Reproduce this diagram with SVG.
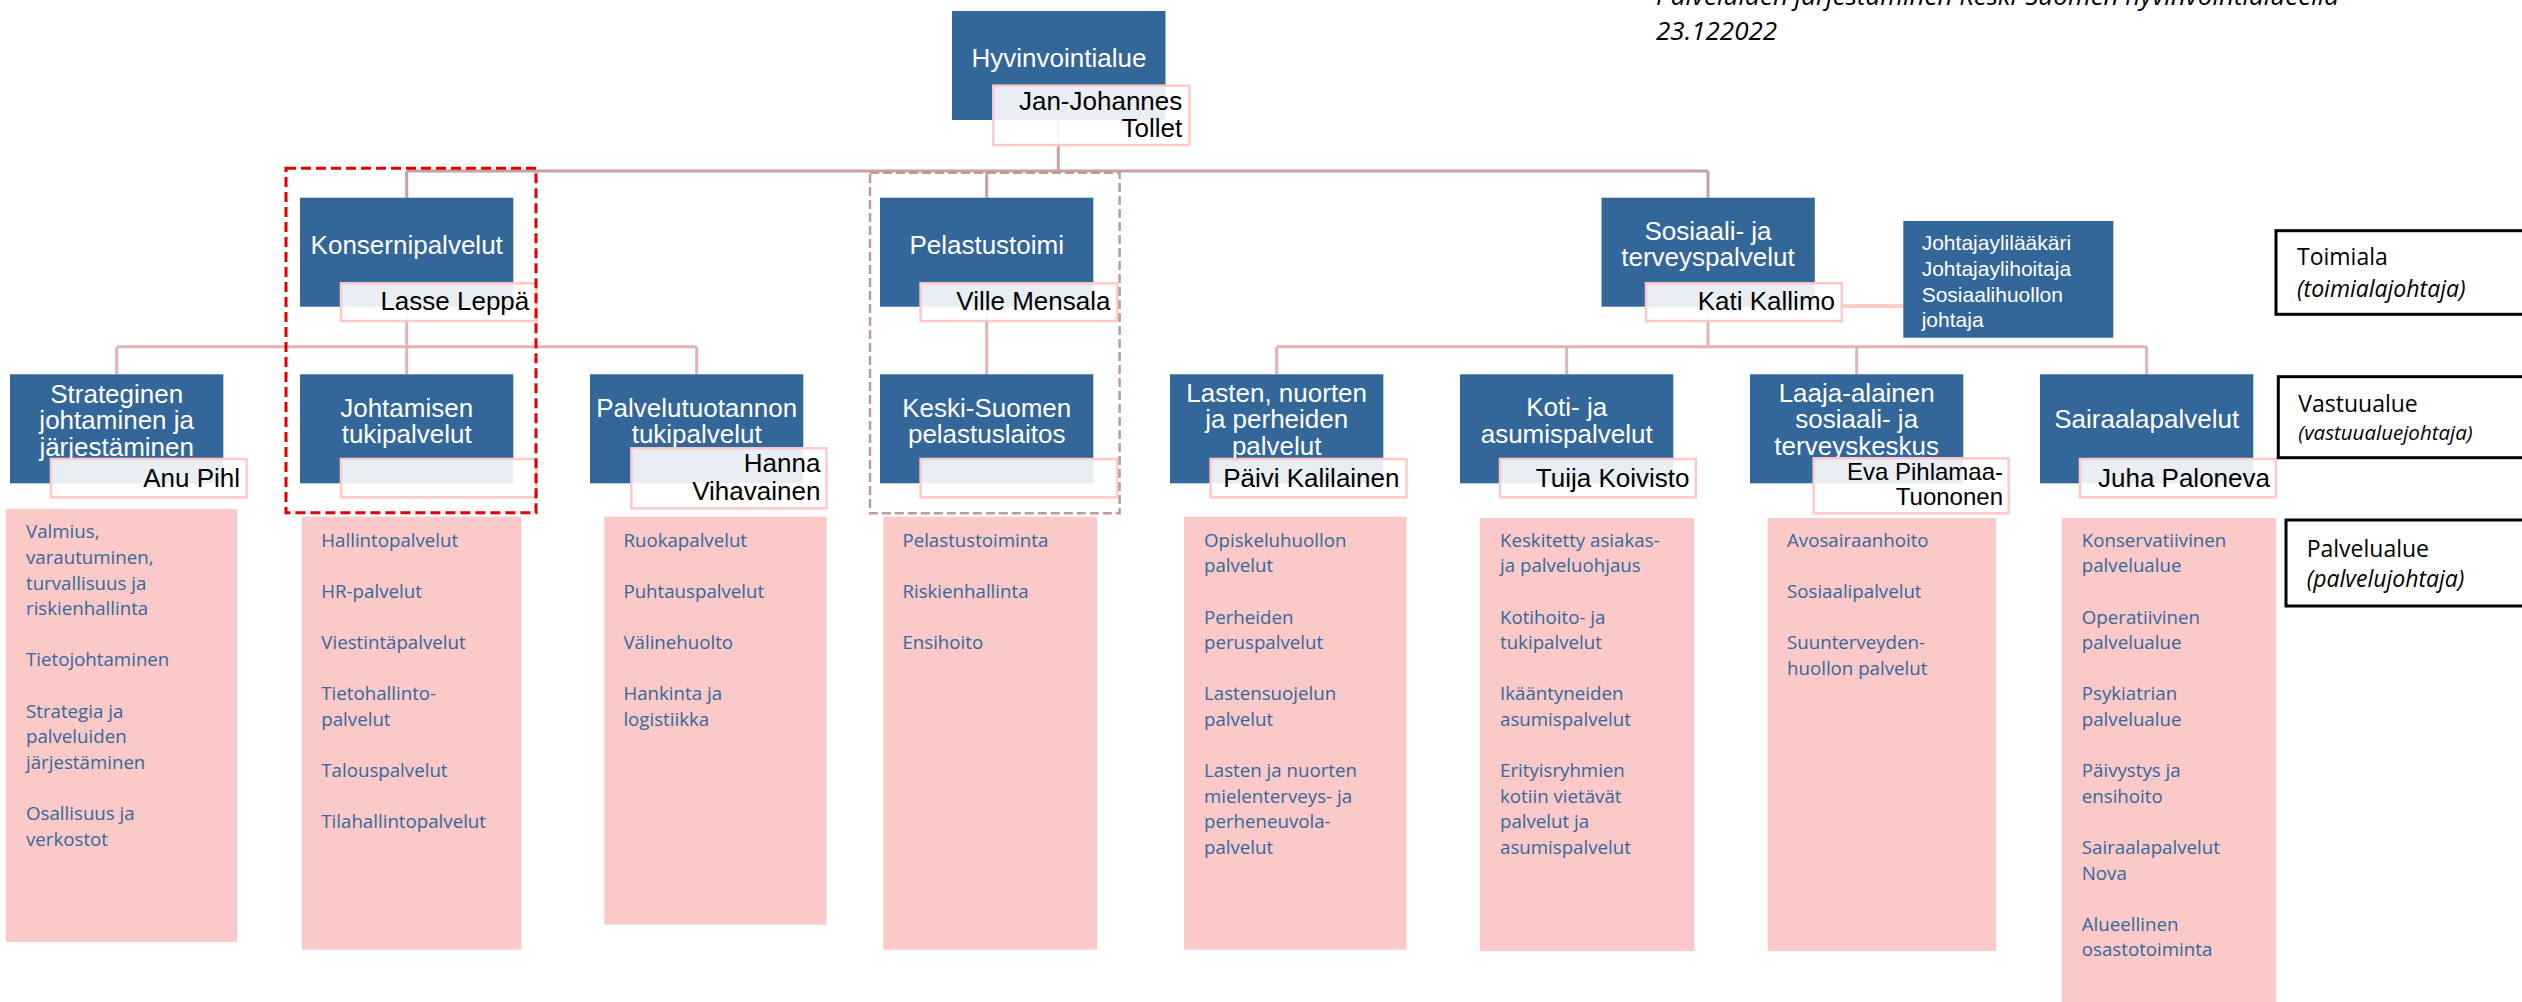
<svg xmlns="http://www.w3.org/2000/svg" width="2522" height="1002" viewBox="0 0 2522 1002">
<style>
.b{fill:#336699}
.n{fill:#fff;fill-opacity:0.89;stroke:#FFC9C9;stroke-width:2.5}
.p{fill:#FCC9C9}
.bt{font-family:"Liberation Sans",Arial,sans-serif;font-size:26px;fill:#fff;text-anchor:middle}
.nt{font-family:"Liberation Sans",Arial,sans-serif;font-size:26px;fill:#000;text-anchor:end}
.pt{font-family:"Open Sans",sans-serif;font-size:18.7px;fill:#35679C}
.c1{stroke:#C9A0A0;stroke-width:3;fill:none}
.c2{stroke:#E3B3B3;stroke-width:3;fill:none}
.lb{fill:#fff;stroke:#000;stroke-width:3}
.lt{font-family:"Open Sans",sans-serif;font-size:23px;fill:#000}
.it{font-style:italic}
</style>
<rect width="2522" height="1002" fill="#fff"/>

<g id="title">
<text class="lt it" style="font-size:26px" x="1656" y="5">Palveluiden järjestäminen Keski-Suomen hyvinvointialueella</text>
<text class="lt it" style="font-size:26px" x="1656" y="40">23.122022</text>
</g>

<g id="connectors">
<path class="c1" d="M1058.3 120V171M406.7 171H1708M406.7 171V197.7M986.7 171V197.7M1708 171V197.7"/>
<path class="c2" d="M406.7 306.7V346.7M116.7 346.7H696.7M116.7 346.7V374.3M406.7 346.7V374.3M696.7 346.7V374.3"/>
<path class="c2" d="M986.7 306.7V374.3"/>
<path class="c2" d="M1708 306.7V346.7M1276.7 346.7H2146.7M1276.7 346.7V374.3M1566.7 346.7V374.3M1856.7 346.7V374.3M2146.7 346.7V374.3"/>
<path d="M1842 306H1903.3" stroke="#FFCACA" stroke-width="4" fill="none"/>
</g>

<g id="hyvinvointialue">
<rect class="b" x="952" y="11" width="213.5" height="109"/>
<text class="bt" x="1059" y="66.7">Hyvinvointialue</text>
<rect class="n" x="993.3" y="85.7" width="196" height="59.3"/>
<text class="nt" x="1182.3" y="110">Jan-Johannes</text>
<text class="nt" x="1182.3" y="136.7">Tollet</text>
</g>

<g id="konsernipalvelut">
<rect class="b" x="300" y="197.7" width="213.3" height="109"/>
<text class="bt" x="406.7" y="254">Konsernipalvelut</text>
<rect class="n" x="341" y="283.3" width="195.7" height="37.7"/>
<text class="nt" x="529.3" y="310">Lasse Leppä</text>
</g>

<g id="pelastustoimi">
<rect class="b" x="880" y="197.7" width="213.3" height="109"/>
<text class="bt" x="986.7" y="254">Pelastustoimi</text>
<rect class="n" x="920.6" y="283.3" width="196.7" height="37.7"/>
<text class="nt" x="1110.5" y="310">Ville Mensala</text>
</g>

<g id="sosiaali">
<rect class="b" x="1601.5" y="197.7" width="213.3" height="109"/>
<text class="bt" x="1708" y="240">Sosiaali- ja</text>
<text class="bt" x="1708" y="266">terveyspalvelut</text>
<rect class="n" x="1646" y="283.3" width="195.8" height="37.7"/>
<text class="nt" x="1835" y="310">Kati Kallimo</text>
</g>

<g id="johtajat">
<rect class="b" x="1903.3" y="221" width="210" height="116.7"/>
<text style="font-family:'Liberation Sans',Arial,sans-serif;font-size:21px;fill:#fff">
<tspan x="1921.7" y="250">Johtajaylilääkäri</tspan>
<tspan x="1921.7" y="276">Johtajaylihoitaja</tspan>
<tspan x="1921.7" y="301.5">Sosiaalihuollon</tspan>
<tspan x="1921.7" y="327">johtaja</tspan>
</text>
</g>

<g id="strateginen">
<rect class="b" x="10" y="374.3" width="213.3" height="109"/>
<text class="bt" x="116.7" y="402.8">Strateginen</text>
<text class="bt" x="116.7" y="429.3">johtaminen ja</text>
<text class="bt" x="116.7" y="455.8">järjestäminen</text>
<rect class="n" x="51" y="459" width="195.7" height="38.3"/>
<text class="nt" x="240" y="486.7">Anu Pihl</text>
</g>

<g id="johtamisen">
<rect class="b" x="300" y="374.3" width="213.3" height="109"/>
<text class="bt" x="406.7" y="416.7">Johtamisen</text>
<text class="bt" x="406.7" y="443.3">tukipalvelut</text>
<rect class="n" x="341" y="459" width="195.7" height="38.3"/>
</g>

<g id="palvelutuotannon">
<rect class="b" x="590" y="374.3" width="213.3" height="109"/>
<text class="bt" x="696.7" y="416.7">Palvelutuotannon</text>
<text class="bt" x="696.7" y="443.3">tukipalvelut</text>
<rect class="n" x="631.4" y="448.3" width="195.1" height="60"/>
<text class="nt" x="820.4" y="471.7">Hanna</text>
<text class="nt" x="820.4" y="500">Vihavainen</text>
</g>

<g id="keski-suomen">
<rect class="b" x="880" y="374.3" width="213.3" height="109"/>
<text class="bt" x="986.7" y="416.7">Keski-Suomen</text>
<text class="bt" x="986.7" y="443.3">pelastuslaitos</text>
<rect class="n" x="920.6" y="459" width="196.7" height="38.3"/>
</g>

<g id="lasten">
<rect class="b" x="1170" y="374.3" width="213.3" height="109"/>
<text class="bt" x="1276.7" y="401.7">Lasten, nuorten</text>
<text class="bt" x="1276.7" y="428.3">ja perheiden</text>
<text class="bt" x="1276.7" y="455">palvelut</text>
<rect class="n" x="1210.6" y="459" width="195.9" height="38.3"/>
<text class="nt" x="1399.5" y="486.7">Päivi Kalilainen</text>
</g>

<g id="koti">
<rect class="b" x="1460" y="374.3" width="213.3" height="109"/>
<text class="bt" x="1566.7" y="415.5">Koti- ja</text>
<text class="bt" x="1566.7" y="443.3">asumispalvelut</text>
<rect class="n" x="1500" y="459" width="195.8" height="38.3"/>
<text class="nt" x="1689.5" y="486.7">Tuija Koivisto</text>
</g>

<g id="laaja-alainen">
<rect class="b" x="1750" y="374.3" width="213.3" height="109"/>
<text class="bt" x="1856.7" y="401.7">Laaja-alainen</text>
<text class="bt" x="1856.7" y="428.3">sosiaali- ja</text>
<text class="bt" x="1856.7" y="455">terveyskeskus</text>
<rect class="n" x="1813.7" y="458.3" width="195" height="55"/>
<text class="nt" style="font-size:24px" x="2003" y="480">Eva Pihlamaa-</text>
<text class="nt" style="font-size:24px" x="2003" y="505">Tuononen</text>
</g>

<g id="sairaalapalvelut">
<rect class="b" x="2040" y="374.3" width="213.3" height="109"/>
<text class="bt" x="2146.7" y="428.3">Sairaalapalvelut</text>
<rect class="n" x="2080" y="459" width="196" height="38.3"/>
<text class="nt" x="2270" y="486.7">Juha Paloneva</text>
</g>

<g id="ryhmat">
<rect x="286" y="168.3" width="250" height="344.4" fill="none" stroke="#E00000" stroke-width="3" stroke-dasharray="10 5"/>
<rect x="870" y="172.7" width="249.6" height="340.6" fill="none" stroke="#BF9A9A" stroke-width="2.5" stroke-dasharray="9 4"/>
</g>

<g id="pa-strateginen">
<rect class="p" x="6" y="509" width="231" height="433"/>
<text class="pt"><tspan x="26" y="538.3">Valmius,</tspan><tspan x="26" y="563.9">varautuminen,</tspan><tspan x="26" y="589.5">turvallisuus ja</tspan><tspan x="26" y="615.1">riskienhallinta</tspan><tspan x="26" y="666.3">Tietojohtaminen</tspan><tspan x="26" y="717.5">Strategia ja</tspan><tspan x="26" y="743.1">palveluiden</tspan><tspan x="26" y="768.7">järjestäminen</tspan><tspan x="26" y="819.9">Osallisuus ja</tspan><tspan x="26" y="845.5">verkostot</tspan></text>
</g>

<g id="pa-johtamisen">
<rect class="p" x="302" y="516.7" width="219.4" height="433"/>
<text class="pt"><tspan x="321.3" y="546.7">Hallintopalvelut</tspan><tspan x="321.3" y="597.9">HR-palvelut</tspan><tspan x="321.3" y="649.1">Viestintäpalvelut</tspan><tspan x="321.3" y="700.3">Tietohallinto-</tspan><tspan x="321.3" y="725.9">palvelut</tspan><tspan x="321.3" y="777.1">Talouspalvelut</tspan><tspan x="321.3" y="828.3">Tilahallintopalvelut</tspan></text>
</g>

<g id="pa-palvelutuotannon">
<rect class="p" x="604.3" y="516.7" width="222.4" height="408"/>
<text class="pt"><tspan x="623.4" y="546.7">Ruokapalvelut</tspan><tspan x="623.4" y="597.9">Puhtauspalvelut</tspan><tspan x="623.4" y="649.1">Välinehuolto</tspan><tspan x="623.4" y="700.3">Hankinta ja</tspan><tspan x="623.4" y="725.9">logistiikka</tspan></text>
</g>

<g id="pa-pelastus">
<rect class="p" x="883.3" y="516.7" width="213.7" height="433"/>
<text class="pt"><tspan x="902.4" y="546.7">Pelastustoiminta</tspan><tspan x="902.4" y="597.9">Riskienhallinta</tspan><tspan x="902.4" y="649.1">Ensihoito</tspan></text>
</g>

<g id="pa-lasten">
<rect class="p" x="1184" y="516.7" width="222.4" height="433"/>
<text class="pt"><tspan x="1204" y="546.7">Opiskeluhuollon</tspan><tspan x="1204" y="572.3">palvelut</tspan><tspan x="1204" y="623.5">Perheiden</tspan><tspan x="1204" y="649.1">peruspalvelut</tspan><tspan x="1204" y="700.3">Lastensuojelun</tspan><tspan x="1204" y="725.9">palvelut</tspan><tspan x="1204" y="777.1">Lasten ja nuorten</tspan><tspan x="1204" y="802.7">mielenterveys- ja</tspan><tspan x="1204" y="828.3">perheneuvola-</tspan><tspan x="1204" y="853.9">palvelut</tspan></text>
</g>

<g id="pa-koti">
<rect class="p" x="1480" y="518" width="214.2" height="433"/>
<text class="pt"><tspan x="1500" y="546.7">Keskitetty asiakas-</tspan><tspan x="1500" y="572.3">ja palveluohjaus</tspan><tspan x="1500" y="623.5">Kotihoito- ja</tspan><tspan x="1500" y="649.1">tukipalvelut</tspan><tspan x="1500" y="700.3">Ikääntyneiden</tspan><tspan x="1500" y="725.9">asumispalvelut</tspan><tspan x="1500" y="777.1">Erityisryhmien</tspan><tspan x="1500" y="802.7">kotiin vietävät</tspan><tspan x="1500" y="828.3">palvelut ja</tspan><tspan x="1500" y="853.9">asumispalvelut</tspan></text>
</g>

<g id="pa-laaja">
<rect class="p" x="1767.7" y="518" width="228.3" height="433"/>
<text class="pt"><tspan x="1787" y="546.7">Avosairaanhoito</tspan><tspan x="1787" y="597.9">Sosiaalipalvelut</tspan><tspan x="1787" y="649.1">Suunterveyden-</tspan><tspan x="1787" y="674.7">huollon palvelut</tspan></text>
</g>

<g id="pa-sairaala">
<rect class="p" x="2061.7" y="518" width="214.3" height="484"/>
<text class="pt"><tspan x="2081.8" y="546.7">Konservatiivinen</tspan><tspan x="2081.8" y="572.3">palvelualue</tspan><tspan x="2081.8" y="623.5">Operatiivinen</tspan><tspan x="2081.8" y="649.1">palvelualue</tspan><tspan x="2081.8" y="700.3">Psykiatrian</tspan><tspan x="2081.8" y="725.9">palvelualue</tspan><tspan x="2081.8" y="777.1">Päivystys ja</tspan><tspan x="2081.8" y="802.7">ensihoito</tspan><tspan x="2081.8" y="853.9">Sairaalapalvelut</tspan><tspan x="2081.8" y="879.5">Nova</tspan><tspan x="2081.8" y="930.7">Alueellinen</tspan><tspan x="2081.8" y="956.3">osastotoiminta</tspan></text>
</g>

<g id="legend-toimiala">
<rect class="lb" x="2276" y="230.7" width="280" height="83.6"/>
<text class="lt" x="2297" y="265">Toimiala</text>
<text class="lt it" x="2297" y="296.5">(toimialajohtaja)</text>
</g>
<g id="legend-vastuualue">
<rect class="lb" x="2278.3" y="376.7" width="280" height="81"/>
<text class="lt" x="2298.3" y="412.3">Vastuualue</text>
<text class="lt it" style="font-size:20.5px" x="2298.3" y="440">(vastuualuejohtaja)</text>
</g>
<g id="legend-palvelualue">
<rect class="lb" x="2286" y="520" width="280" height="86"/>
<text class="lt" x="2306.7" y="556.7">Palvelualue</text>
<text class="lt it" x="2306.7" y="586.7">(palvelujohtaja)</text>
</g>
</svg>
